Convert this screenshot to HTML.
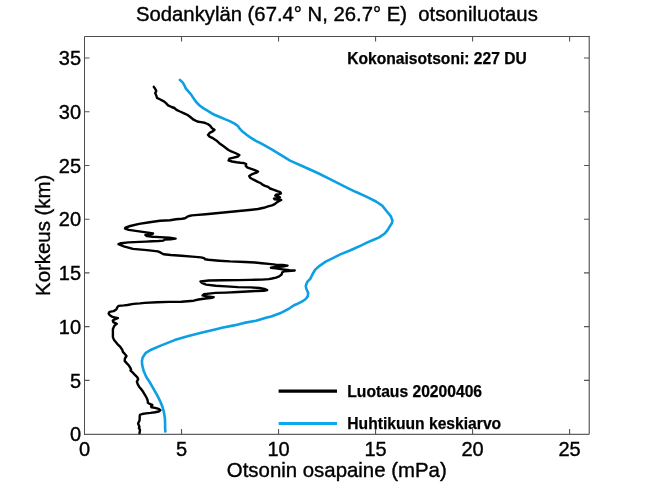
<!DOCTYPE html>
<html><head><meta charset="utf-8"><style>
html,body{margin:0;padding:0;background:#fff;}
svg{display:block;will-change:transform;}
text{font-family:"Liberation Sans",sans-serif;fill:#000;stroke:#000;stroke-width:0.38px;}
.b{font-weight:bold;stroke-width:0.25px;}
</style></head><body>
<svg width="651" height="488" viewBox="0 0 651 488">
<rect width="651" height="488" fill="#fff"/>
<text x="336.9" y="21.1" text-anchor="middle" font-size="20.3" xml:space="preserve">Sodankylän (67.4° N, 26.7° E)  otsoniluotaus</text>
<g font-size="20"><text x="84.50" y="455.6" text-anchor="middle">0</text><text x="181.52" y="455.6" text-anchor="middle">5</text><text x="278.54" y="455.6" text-anchor="middle">10</text><text x="375.56" y="455.6" text-anchor="middle">15</text><text x="472.58" y="455.6" text-anchor="middle">20</text><text x="569.60" y="455.6" text-anchor="middle">25</text><text x="81.1" y="441.40" text-anchor="end">0</text><text x="81.1" y="387.67" text-anchor="end">5</text><text x="81.1" y="333.94" text-anchor="end">10</text><text x="81.1" y="280.21" text-anchor="end">15</text><text x="81.1" y="226.48" text-anchor="end">20</text><text x="81.1" y="172.75" text-anchor="end">25</text><text x="81.1" y="119.02" text-anchor="end">30</text><text x="81.1" y="65.29" text-anchor="end">35</text></g>
<text x="336.8" y="477.2" text-anchor="middle" font-size="20.4">Otsonin osapaine (mPa)</text>
<text transform="translate(49.6,235.3) rotate(-90)" text-anchor="middle" font-size="20.4">Korkeus (km)</text>
<text x="347.3" y="63.7" font-size="15.6" class="b">Kokonaisotsoni: 227 DU</text>
<polyline points="179.9,79.9 182.8,82.6 184.4,85.4 185.7,88.3 188.1,91.2 191,94.4 193.4,98.1 196.3,102.2 199.6,105.5 203.7,108.4 207.8,110.8 211.9,113.3 214.9,115 219.8,117 224.8,119.1 229.7,121.1 234.6,123.6 237.9,126 239.9,128.9 242.8,131.8 246.9,135 251,137.9 255.9,140.8 260,142.8 261.9,143.9 271.7,149.4 281.5,155.4 290,160.6 303.8,166.7 317.7,173 331.5,179.9 345.3,186.8 355.5,191.8 365.8,196.4 376,201.5 382.2,205.6 386.3,210.8 390.9,216.4 392.4,220.5 392,223.1 389.5,226.8 387.4,230.3 384.4,233.8 379.2,237.4 373.1,240 368,242.1 360.8,245.6 350.5,250.3 340.3,254.4 333.9,257.6 325.7,261.7 319.6,265.8 315,269.9 312.4,274.5 310.4,278.6 307.3,281.8 305.8,285.7 306.3,288.8 308.1,292.6 307.8,296.4 305.2,299.5 301.4,301.8 297.7,303.7 294,305.2 289.5,308.3 280,313.3 271.1,316.4 266,317.8 256,320.8 244,322.9 234,325.4 222,327.7 216.1,329.2 202.2,332.6 188.4,335.9 174.6,340.1 160.7,345.6 151.1,349.7 145.5,353.2 142.8,357.3 141.9,361 142.2,365.1 143.7,371 146.3,377 149.6,382 153,387.9 156.4,393.9 157.4,395.7 160.2,401.3 162.5,407 164,412.6 164.9,418.3 165.1,423.9 165.1,428.7 165.4,431.5" fill="none" stroke="#0C9FE4" stroke-width="2.6" stroke-linejoin="round" stroke-linecap="round"/>
<polyline points="153.8,86.8 155.2,88.9 156.3,91 155.2,93.1 156.3,95.5 157,97.9 159.8,99.3 163.9,101.4 166,103.2 168.1,105.3 171.6,107 174.4,108 176.5,109.8 180,111.5 184.1,113.3 187.6,115 190,116.8 193.6,119.7 197.3,121.5 201,122.1 204.7,122.8 207.7,124 210.2,125.8 212,128.3 214.5,129.8 212.7,131.4 209.6,132.9 208,135 209.6,136.6 213.3,138.4 216.3,140.4 219.3,143.2 223.6,146.3 226.5,148.5 228.5,150 231.2,151.3 235.3,153 239.4,155 238,156.5 233.7,157.6 229.4,158.7 228.6,160.5 232.2,161.5 236.5,162.3 240.5,162.8 243.7,163 246.2,164.2 245.7,165.8 247.6,167.7 251.3,168.9 254.8,170.1 258,171.5 256.4,172.7 252.3,174.1 249.2,176 250.1,177.8 253.5,179.7 257.8,181.8 260.5,183 262.5,184.6 265,185.8 268.1,186.9 270.1,188.5 274,189.8 277.3,191.1 280.2,192.1 280.9,193.4 279.2,194.1 276,194.7 275.3,195.7 277.9,196.4 279.9,197.4 277.3,198 274,198.7 274.7,199.3 278.6,199.7 281.2,200 279.2,201 276.6,202.6 274.7,204.2 272,205.4 268.1,206.4 263.8,207.8 258,209 251.8,209.7 236.4,211.2 221.1,212.7 205.7,214.2 195,215.1 192,215.4 189,216 187,216.9 185,218.2 182,218.7 176,219.3 170,220.3 160,220.8 149.6,222.2 139.2,223.9 130.2,226 125.4,227.7 125,228.5 128.8,229.9 135.7,230.9 142.6,231.9 148.2,232.6 153,233.5 149.6,234.7 145.4,235 146.8,236.1 153,236.8 160,237.1 169.6,237.8 175.6,238.6 170.7,239.2 164.6,239.6 163.3,240.6 158.4,241 152.3,241.3 146.1,241.6 140,241.9 128.4,242.4 121,243.2 118.5,244.2 123.8,246.3 133,248.9 146.9,250.1 157.9,251.4 160.7,252.7 163.6,254.3 170.8,255 181.5,255.7 192.3,256.6 200.9,257.4 204.1,258.2 205.2,259.3 208.4,259.8 219.1,260.7 230,261.4 245,262 255,262.5 261.9,263.2 268.8,263.9 275.7,264.6 282.6,264.9 287.5,265.6 282.6,266.6 275.7,267 270.9,267.7 275.7,268.4 282.6,269.4 289.6,270.3 294.7,270.5 288.2,271.1 284,271.3 282.2,272.5 281.6,274.5 279.2,276.4 276,277.6 272,278.5 268.8,279.1 261.9,279.6 250.3,279.9 238,280.1 222.6,280.2 208.8,280.5 200.5,281.5 201.9,282.9 206.1,284.6 215.7,285.7 226.1,286.4 238,287.1 250.3,287.4 259.5,288 264.4,288.9 267.2,290.1 263.8,290.7 256.4,291 247.2,291.5 238,292 226.1,292.6 215.7,292.9 208.8,293.6 204,294.3 202.6,295.4 205.4,296.2 213.7,297.1 212.3,297.8 205.4,298.5 198.5,299.5 193.7,300.7 181.4,301.7 169.1,301.9 156.9,302.3 144.6,302.9 140,303.4 133.5,303.9 127.4,305 124,305.4 118.6,305.9 117.3,307.3 116.3,309.5 113.6,311.1 109.5,311.9 108.6,313.5 109.9,315.3 112.5,316.9 117.9,318.2 114.7,319.3 112.8,320.6 113.3,322.2 116.8,323.8 114.7,325.4 114,326.5 112.9,329.1 112.9,332.1 112.9,337.1 114.1,340.1 117.2,343.8 120.3,346.9 122.4,350 122.8,351.8 124.6,353.7 126.5,356 124.9,358.5 124.7,360.9 126.4,362.9 128.8,365.3 130.3,367.8 131.1,369.8 130.6,370.7 132.3,372.2 134.7,374.7 137.2,377.1 138.2,379.1 136.9,381.6 137.7,384.1 139.3,387 141.4,389.4 143.4,392.3 145.1,395.2 146.7,398 147.5,400 147.8,401.5 147.9,402.8 149.7,403.9 152.4,404.8 151.1,406.1 151.5,407.3 155.1,407.9 158.7,408.8 160.3,410.2 158.7,411.5 155.1,412.2 150.6,412.9 146.1,413.4 142.1,414 140,414.8 139.7,416.3 139.7,418 139.5,420.6 138.1,423.6 138.9,425.4 139.5,427 138.9,428.1 140,429.7 139.7,431.8 139.5,433.4" fill="none" stroke="#000" stroke-width="2.4" stroke-linejoin="round" stroke-linecap="round"/>
<path d="M278.6,391.2H337" stroke="#000" stroke-width="3.2"/>
<path d="M278.6,423.5H337" stroke="#0DA9EF" stroke-width="3.2"/>
<text x="347.3" y="396.7" font-size="15.65" class="b">Luotaus 20200406</text>
<text x="347.3" y="428.8" font-size="15.65" class="b">Huhtikuun keskiarvo</text>
<path d="M181.52,434.1V429.10M181.52,36.5V41.50M278.54,434.1V429.10M278.54,36.5V41.50M375.56,434.1V429.10M375.56,36.5V41.50M472.58,434.1V429.10M472.58,36.5V41.50M569.60,434.1V429.10M569.60,36.5V41.50M84.5,380.37H89.50M589.0,380.37H584.00M84.5,326.64H89.50M589.0,326.64H584.00M84.5,272.91H89.50M589.0,272.91H584.00M84.5,219.18H89.50M589.0,219.18H584.00M84.5,165.45H89.50M589.0,165.45H584.00M84.5,111.72H89.50M589.0,111.72H584.00M84.5,57.99H89.50M589.0,57.99H584.00" stroke="#555" stroke-width="1.1" fill="none"/>
<path d="M84.5,434.6V36.5H589.5" stroke="#4d4d4d" stroke-width="1" fill="none"/>
<path d="M589.2,36.0V434.3H84.0" stroke="#3a3a3a" stroke-width="1" fill="none"/>
</svg>
</body></html>
